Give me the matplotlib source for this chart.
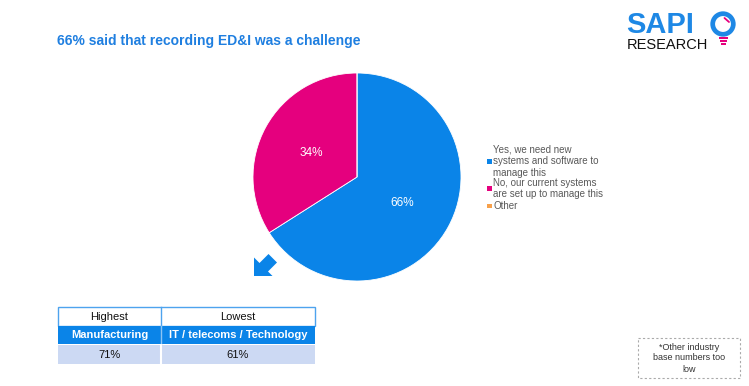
import matplotlib
matplotlib.use("Agg")
import matplotlib.pyplot as plt
from matplotlib.patches import Rectangle, Circle, Polygon
from matplotlib import font_manager

plt.rcParams['font.family'] = ['Liberation Sans', 'DejaVu Sans']

W, H = 749, 386
categories = ["Yes, we need new\nsystems and software to\nmanage this",
              "No, our current systems\nare set up to manage this",
              "Other"]
values = [66, 34, 0]
colors = ["#0A84E8", "#E5007E", "#F7A04A"]
title = "66% said that recording ED&I was a challenge"
table_header = ["Highest", "Lowest"]
table_industry = ["Manufacturing", "IT / telecoms / Technology"]
table_values = ["71%", "61%"]

fig = plt.figure(figsize=(W / 100, H / 100), dpi=100)

def fx(x): return x / W
def fy(y): return 1 - y / H

# Pie
cx, cy, r = 357, 177, 104
ax = fig.add_axes([fx(cx - r), fy(cy + r), 2 * r / W, 2 * r / H])
wedges, _ = ax.pie(values, colors=colors, startangle=90, counterclock=False,
                   wedgeprops=dict(linewidth=0.6, edgecolor="white"))
ax.set_aspect("equal")
ax.set_xlim(-1, 1); ax.set_ylim(-1, 1)
ax.text(0.43, -0.25, "66%", color="white", fontsize=8.5, ha="center", va="center")
ax.text(-0.44, 0.23, "34%", color="white", fontsize=8.5, ha="center", va="center")

# Title
fig.text(fx(57), fy(41), title, color="#1F7FE0", fontsize=10, fontweight="bold",
         ha="left", va="center")

# Overlay axes in pixel coordinates
lx = fig.add_axes([0, 0, 1, 1], zorder=5)
lx.set_xlim(0, W); lx.set_ylim(H, 0); lx.axis("off")

# Legend
first_line_y = [150, 183, 206]
line_h = 11.3
for cat, col, y0 in zip(categories, colors, first_line_y):
    lines = cat.split("\n")
    for k, ln in enumerate(lines):
        lx.text(493, y0 + k * line_h, ln, fontsize=7, color="#595959",
                ha="left", va="center")
    my = y0 + (len(lines) - 1) * line_h / 2
    lx.add_patch(Rectangle((487, my - 2.3), 4.6, 4.6, color=col, lw=0))

# Logo
lx.text(626, 25, "SAPI", color="#1E88E5", fontsize=21, fontweight="bold",
        ha="left", va="center")
names = {f.name for f in font_manager.fontManager.ttflist}
rfam = "Liberation Sans Narrow" if "Liberation Sans Narrow" in names else "Liberation Sans"
lx.text(627, 45, "RESEARCH", color="#111111", fontsize=12.5 if rfam.endswith("Narrow") else 10.5,
        family=rfam, ha="left", va="center")
lx.add_patch(Circle((723, 24), 10.3, fill=False, lw=3.4, ec="#1E88E5"))
lx.plot([724.5, 729], [18, 22], color="#E5007E", lw=1.3, solid_capstyle="round")
lx.add_patch(Rectangle((718.5, 36.5), 9, 2.5, color="#E5007E", lw=0))
lx.add_patch(Rectangle((719.5, 40), 7, 1.8, color="#E5007E", lw=0))
lx.add_patch(Rectangle((720.5, 43), 5, 1.8, color="#E5007E", lw=0))

# Arrow (down-left)
lx.add_patch(Polygon([(254, 276), (254, 257.5), (259.5, 263), (268.5, 254),
                      (277, 262.5), (268, 271.5), (272.5, 276)], closed=True,
                     color="#0A84E8", lw=0))

# Table
tx0, tx1, txm = 58, 315, 161
rows = [(307, 326), (326, 344), (345, 364)]
lx.add_patch(Rectangle((tx0, rows[0][0]), tx1 - tx0, rows[0][1] - rows[0][0],
                       fc="white", ec="#4DA3EE", lw=1))
lx.plot([txm, txm], [rows[0][0], rows[0][1]], color="#4DA3EE", lw=1)
lx.add_patch(Rectangle((tx0, rows[1][0]), tx1 - tx0, rows[1][1] - rows[1][0],
                       fc="#0A84E8", ec="none"))
lx.plot([txm, txm], [rows[1][0], rows[1][1]], color="#8CC4F4", lw=1)
lx.add_patch(Rectangle((tx0, rows[2][0]), tx1 - tx0, rows[2][1] - rows[2][0],
                       fc="#CCD9F3", ec="none"))
lx.plot([txm, txm], [rows[2][0], rows[2][1]], color="white", lw=1.5)
cxs = [(tx0 + txm) / 2, (txm + tx1) / 2]
for i in range(2):
    lx.text(cxs[i], (rows[0][0] + rows[0][1]) / 2 + 1, table_header[i], fontsize=8,
            color="#111111", ha="center", va="center")
    lx.text(cxs[i], (rows[1][0] + rows[1][1]) / 2, table_industry[i], fontsize=8,
            color="white", fontweight="bold", ha="center", va="center")
    lx.text(cxs[i], (rows[2][0] + rows[2][1]) / 2, table_values[i], fontsize=8,
            color="#111111", ha="center", va="center")

# Note box
lx.add_patch(Rectangle((638, 338), 102, 40, fill=False, ec="#AAAAAA", lw=0.8,
                       ls=(0, (2, 2))))
for k, ln in enumerate(["*Other industry", "base numbers too", "low"]):
    lx.text(689, 347 + k * 11, ln, fontsize=6.5, color="#333333",
            ha="center", va="center")

fig.savefig("out.png", dpi=100)
